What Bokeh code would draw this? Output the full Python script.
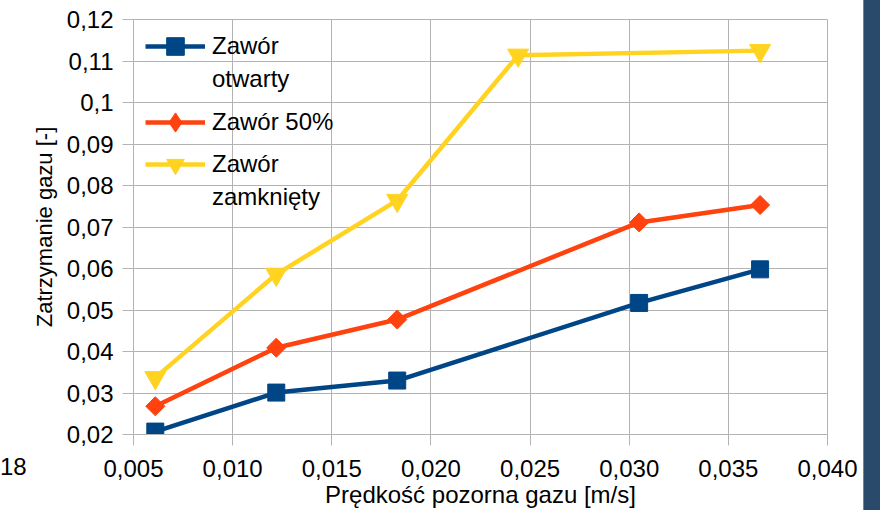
import numpy as np
from bokeh.plotting import figure
from bokeh.models import (Range1d, FixedTicker, CustomJSTickFormatter, Legend, LegendItem, Div)
from bokeh.layouts import row
from bokeh.embed import file_html
from bokeh.resources import INLINE

# ---- data ----
x_open = [0.0061, 0.0122, 0.0183, 0.0305, 0.0366]
y_open = [0.0207, 0.0301, 0.0330, 0.0517, 0.0598]

x_half = [0.0061, 0.0122, 0.0183, 0.0305, 0.0366]
y_half = [0.0268, 0.0409, 0.0477, 0.0711, 0.0753]

x_closed = [0.0061, 0.0122, 0.0183, 0.0244, 0.0366]
y_closed = [0.0337, 0.0586, 0.0764, 0.1114, 0.1125]

legend_lines = [["Zawór", "otwarty"], ["Zawór 50%"], ["Zawór", "zamknięty"]]
colors = ["#004586", "#ff420e", "#ffd320"]

x_ticks = [0.005, 0.010, 0.015, 0.020, 0.025, 0.030, 0.035, 0.040]
y_ticks = [0.02, 0.03, 0.04, 0.05, 0.06, 0.07, 0.08, 0.09, 0.10, 0.11, 0.12]

x_title = "Prędkość pozorna gazu [m/s]"
y_title = "Zatrzymanie gazu [-]"
stray_label = "18"

FONT = "Liberation Sans"
FS = "24px"
GRID = "#b3b3b3"

LEFT_W = 26
BAR_W = 17
FRAME_H = 415
p = figure(width=880 - LEFT_W - BAR_W, height=510, output_backend="svg", toolbar_location=None,
           x_range=Range1d(x_ticks[0], x_ticks[-1]), y_range=Range1d(y_ticks[0], y_ticks[-1]),
           min_border_left=133 - LEFT_W, min_border_right=36, min_border_top=19,
           min_border_bottom=76, margin=0)
p.frame_width = 694
p.frame_height = FRAME_H
# range used only for legend sample glyphs, so their plotted copies fall outside the frame
p.extra_y_ranges = {"legend_only": Range1d(1, 2)}

p.background_fill_color = "white"
p.border_fill_color = "white"
p.outline_line_color = GRID
p.outline_line_width = 1

p.xaxis.ticker = FixedTicker(ticks=x_ticks)
p.yaxis.ticker = FixedTicker(ticks=y_ticks)
p.xaxis.formatter = CustomJSTickFormatter(code="return tick.toFixed(3).replace('.', ',');")
p.yaxis.formatter = CustomJSTickFormatter(code="return String(parseFloat(tick.toFixed(4))).replace('.', ',');")

for ax in (p.xaxis, p.yaxis):
    ax.axis_line_color = GRID
    ax.major_tick_line_color = GRID
    ax.major_tick_out = 11
    ax.major_tick_in = 0
    ax.minor_tick_line_color = None
    ax.major_label_text_font = FONT
    ax.major_label_text_font_size = FS
    ax.major_label_text_color = "black"
    ax.axis_label_text_font = FONT
    ax.axis_label_text_font_style = "normal"
    ax.axis_label_text_color = "black"

p.xaxis.axis_label = x_title
p.yaxis.axis_label = y_title
p.xaxis.axis_label_text_font_size = "24px"
p.yaxis.axis_label_text_font_size = "22px"
p.xaxis.major_label_standoff = 14
p.yaxis.major_label_standoff = 9
p.xaxis.axis_label_standoff = 1
p.yaxis.axis_label_standoff = 7

p.xgrid.ticker = FixedTicker(ticks=x_ticks)
p.ygrid.ticker = FixedTicker(ticks=y_ticks)
p.grid.grid_line_color = GRID
p.grid.grid_line_width = 1

LW = 4.5
l1 = p.line(x_open, y_open, line_color=colors[0], line_width=LW)
s1 = p.scatter(x_open, y_open, marker="square", size=17,
               fill_color=colors[0], line_color=colors[0])
l2 = p.line(x_half, y_half, line_color=colors[1], line_width=LW)
s2 = p.scatter(x_half, y_half, marker="square", size=13.5, angle=np.pi / 4,
               fill_color=colors[1], line_color=colors[1])
l3 = p.line(x_closed, y_closed, line_color=colors[2], line_width=LW)
s3 = p.scatter(x_closed, y_closed, marker="inverted_triangle", size=21,
               fill_color=colors[2], line_color=colors[2])

# legend-only samples (drawn on the out-of-view range)
d2 = p.scatter(x_half, y_half, y_range_name="legend_only", marker="diamond",
               fill_color=colors[1], line_color=colors[1])
blank = p.line(x_half, y_half, y_range_name="legend_only", line_alpha=0)

# legend rows: (text, renderers, row centre in px from frame top, glyph box height)
rows = [
    (legend_lines[0][0], [l1, s1], 27, 44),
    (legend_lines[0][1], [blank], 60, 44),
    (legend_lines[1][0], [l2, d2], 103, 48),
    (legend_lines[2][0], [l3, s3], 145, 44),
    (legend_lines[2][1], [blank], 178, 44),
]
for text, rends, cy, gh in rows:
    lg = Legend(items=[LegendItem(label=text, renderers=rends)],
                location=(12, FRAME_H - cy - gh / 2))
    lg.background_fill_alpha = 0
    lg.border_line_alpha = 0
    lg.label_text_font = FONT
    lg.label_text_font_size = FS
    lg.label_text_color = "black"
    lg.glyph_width = 60
    lg.glyph_height = gh
    lg.label_height = 20
    lg.label_standoff = 7
    lg.spacing = 0
    lg.margin = 0
    lg.padding = 0
    p.add_layout(lg)

left = Div(text=stray_label, width=LEFT_W, height=510, margin=0,
           styles={"font-family": FONT, "font-size": FS, "color": "black",
                   "padding-top": "453px", "line-height": "normal",
                   "background-color": "white", "overflow": "hidden",
                   "box-sizing": "border-box"})
bar = Div(width=BAR_W, height=510, margin=0,
          styles={"background-color": "#2a4a6b", "border-left": "1px solid #6f86a0",
                  "box-sizing": "border-box"})
layout = row(left, p, bar, spacing=0)

open("out.html", "w").write(file_html(layout, INLINE))
